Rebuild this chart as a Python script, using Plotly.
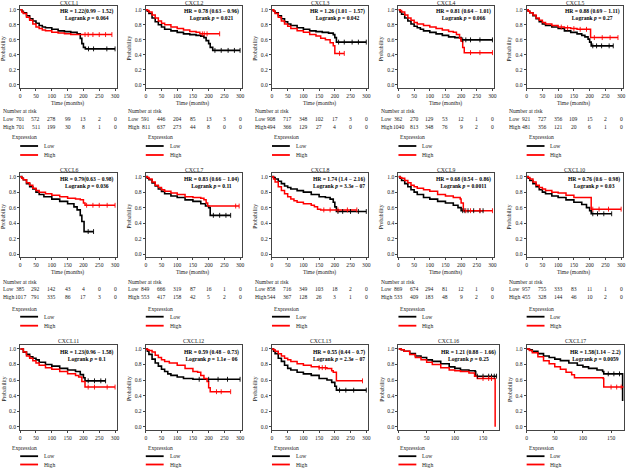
import numpy as np
import plotly.graph_objects as go

# ---------------- data ----------------
GENES = ["CXCL1", "CXCL2", "CXCL3", "CXCL4", "CXCL5",
         "CXCL6", "CXCL7", "CXCL8", "CXCL9", "CXCL10",
         "CXCL11", "CXCL12", "CXCL13", "CXCL16", "CXCL17"]
HR_LABELS = ["HR = 1.22(0.99 \u2212 1.52)", "HR = 0.78 (0.63 \u2212 0.96)", "HR = 1.26 (1.01 \u2212 1.57)",
             "HR = 0.81 (0.64 \u2212 1.01)", "HR = 0.88 (0.69 \u2212 1.11)", "HR = 0.79(0.63 \u2212 0.98)",
             "HR = 0.83 (0.66 \u2212 1.04)", "HR = 1.74 (1.4 \u2212 2.16)", "HR = 0.68 (0.54 \u2212 0.86)",
             "HR = 0.76 (0.6 \u2212 0.98)", "HR = 1.23(0.96 \u2212 1.58)", "HR = 0.59 (0.48 \u2212 0.73)",
             "HR = 0.55 (0.44 \u2212 0.7)", "HR = 1.21 (0.88 \u2212 1.66)", "HR = 1.58(1.14 \u2212 2.2)"]
P_LABELS = ["0.064", "0.021", "0.042", "0.066", "0.27", "0.036", "0.11", "3.3e \u2212 07", "0.0011",
            "0.03", "0.1", "1.1e \u2212 06", "2.3e \u2212 07", "0.25", "0.0059"]

RISK_TIMES = [0, 50, 100, 150, 200, 250, 300]
RISK_CXCL1_LOW = [701, 572, 278, 99, 13, 2, 0]
RISK_CXCL1_HIGH = [701, 511, 199, 30, 8, 1, 0]
RISK_CXCL2_LOW = [591, 446, 204, 85, 13, 3, 0]
RISK_CXCL2_HIGH = [811, 637, 273, 44, 8, 0, 0]
RISK_CXCL3_LOW = [908, 717, 348, 102, 17, 3, 0]
RISK_CXCL3_HIGH = [494, 366, 129, 27, 4, 0, 0]
RISK_CXCL4_LOW = [362, 270, 129, 53, 12, 1, 0]
RISK_CXCL4_HIGH = [1040, 813, 348, 76, 9, 2, 0]
RISK_CXCL5_LOW = [921, 727, 356, 109, 15, 2, 0]
RISK_CXCL5_HIGH = [481, 356, 121, 20, 6, 1, 0]
RISK_CXCL6_LOW = [385, 292, 142, 43, 4, 0, 0]
RISK_CXCL6_HIGH = [1017, 791, 335, 86, 17, 3, 0]
RISK_CXCL7_LOW = [849, 666, 319, 87, 16, 1, 0]
RISK_CXCL7_HIGH = [553, 417, 158, 42, 5, 2, 0]
RISK_CXCL8_LOW = [858, 716, 349, 103, 18, 2, 0]
RISK_CXCL8_HIGH = [544, 367, 128, 26, 3, 1, 0]
RISK_CXCL9_LOW = [869, 674, 294, 81, 12, 1, 0]
RISK_CXCL9_HIGH = [533, 409, 183, 48, 9, 2, 0]
RISK_CXCL10_LOW = [957, 755, 333, 83, 11, 1, 0]
RISK_CXCL10_HIGH = [455, 328, 144, 46, 10, 2, 0]

# Kaplan-Meier step points (time in months, survival probability)
CXCL1_LOW_T = [0, 5, 10, 20, 30, 40, 50, 60, 70, 80, 100, 120, 140, 160, 180, 190, 195, 200, 206, 300]
CXCL1_LOW_S = [1.0, 0.98, 0.96, 0.92, 0.88, 0.85, 0.82, 0.79, 0.77, 0.76, 0.74, 0.72, 0.71, 0.70, 0.68, 0.62, 0.55, 0.50, 0.48, 0.48]
CXCL1_HIGH_T = [0, 5, 10, 20, 30, 40, 50, 60, 70, 80, 100, 120, 140, 160, 180, 290]
CXCL1_HIGH_S = [1.0, 0.97, 0.95, 0.90, 0.86, 0.81, 0.77, 0.75, 0.73, 0.72, 0.70, 0.69, 0.68, 0.67, 0.67, 0.67]
CXCL1_LOW_C = [216, 232, 274, 300]
CXCL1_HIGH_C = [205, 215, 230, 250, 270, 290]

CXCL2_LOW_T = [0, 5, 10, 20, 30, 40, 50, 60, 80, 100, 120, 140, 160, 175, 185, 192, 200, 205, 213, 300]
CXCL2_LOW_S = [1.0, 0.98, 0.95, 0.89, 0.84, 0.80, 0.77, 0.74, 0.72, 0.70, 0.68, 0.67, 0.66, 0.65, 0.63, 0.59, 0.55, 0.50, 0.46, 0.46]
CXCL2_HIGH_T = [0, 5, 10, 20, 30, 40, 50, 60, 80, 100, 120, 140, 160, 172, 235]
CXCL2_HIGH_S = [1.0, 0.99, 0.97, 0.93, 0.89, 0.85, 0.82, 0.80, 0.77, 0.75, 0.73, 0.71, 0.70, 0.68, 0.68]
CXCL2_LOW_C = [220, 240, 262, 282, 300]
CXCL2_HIGH_C = [180, 186, 195, 235]

CXCL3_LOW_T = [0, 5, 10, 20, 30, 40, 50, 60, 80, 100, 120, 140, 160, 180, 195, 200, 205, 300]
CXCL3_LOW_S = [1.0, 0.98, 0.96, 0.92, 0.88, 0.84, 0.81, 0.79, 0.76, 0.74, 0.72, 0.71, 0.70, 0.69, 0.67, 0.63, 0.57, 0.57]
CXCL3_HIGH_T = [0, 5, 10, 20, 30, 40, 50, 60, 80, 100, 120, 140, 155, 170, 185, 195, 200, 230]
CXCL3_HIGH_S = [1.0, 0.98, 0.95, 0.90, 0.85, 0.81, 0.78, 0.75, 0.72, 0.70, 0.67, 0.65, 0.62, 0.60, 0.56, 0.52, 0.42, 0.42]
CXCL3_LOW_C = [212, 230, 255, 275, 300]
CXCL3_HIGH_C = [215, 230]

CXCL4_LOW_T = [0, 5, 10, 20, 30, 40, 50, 60, 70, 80, 100, 120, 140, 160, 180, 200, 300]
CXCL4_LOW_S = [1.0, 0.97, 0.94, 0.89, 0.85, 0.81, 0.78, 0.76, 0.74, 0.72, 0.70, 0.68, 0.66, 0.64, 0.63, 0.60, 0.60]
CXCL4_HIGH_T = [0, 5, 10, 20, 30, 40, 50, 60, 80, 100, 120, 140, 160, 175, 185, 195, 200, 205, 210, 300]
CXCL4_HIGH_S = [1.0, 0.99, 0.97, 0.93, 0.89, 0.86, 0.83, 0.81, 0.79, 0.77, 0.75, 0.73, 0.71, 0.70, 0.67, 0.62, 0.58, 0.50, 0.43, 0.43]
CXCL4_LOW_C = [205, 215, 230, 260, 300]
CXCL4_HIGH_C = [230, 260, 300]

CXCL5_LOW_T = [0, 5, 10, 20, 30, 40, 50, 60, 80, 100, 120, 140, 160, 175, 185, 195, 200, 205, 275]
CXCL5_LOW_S = [1.0, 0.98, 0.96, 0.92, 0.88, 0.84, 0.81, 0.79, 0.77, 0.75, 0.72, 0.70, 0.68, 0.66, 0.64, 0.61, 0.57, 0.52, 0.52]
CXCL5_HIGH_T = [0, 5, 10, 20, 30, 40, 50, 60, 80, 100, 120, 140, 160, 180, 203, 290]
CXCL5_HIGH_S = [1.0, 0.98, 0.96, 0.93, 0.89, 0.86, 0.83, 0.81, 0.79, 0.77, 0.76, 0.75, 0.74, 0.74, 0.63, 0.63]
CXCL5_LOW_C = [210, 222, 238, 262, 275]
CXCL5_HIGH_C = [110, 130, 150, 170, 190, 215, 240, 265, 290]

CXCL6_LOW_T = [0, 5, 10, 20, 30, 40, 50, 60, 75, 100, 125, 150, 170, 180, 190, 195, 202, 232]
CXCL6_LOW_S = [1.0, 0.98, 0.96, 0.91, 0.87, 0.84, 0.80, 0.77, 0.74, 0.71, 0.68, 0.65, 0.61, 0.57, 0.50, 0.42, 0.29, 0.29]
CXCL6_HIGH_T = [0, 5, 10, 20, 30, 40, 50, 60, 80, 100, 125, 150, 175, 190, 200, 205, 300]
CXCL6_HIGH_S = [1.0, 0.98, 0.96, 0.92, 0.89, 0.85, 0.82, 0.80, 0.78, 0.76, 0.74, 0.72, 0.71, 0.70, 0.66, 0.63, 0.63]
CXCL6_LOW_C = [215, 232]
CXCL6_HIGH_C = [210, 230, 250, 275, 300]

CXCL7_LOW_T = [0, 5, 10, 20, 30, 40, 50, 60, 80, 100, 125, 150, 175, 190, 200, 205, 270]
CXCL7_LOW_S = [1.0, 0.98, 0.96, 0.92, 0.88, 0.84, 0.81, 0.78, 0.75, 0.73, 0.70, 0.68, 0.65, 0.62, 0.60, 0.50, 0.50]
CXCL7_HIGH_T = [0, 5, 10, 20, 30, 40, 50, 60, 80, 100, 125, 150, 175, 185, 192, 197, 297]
CXCL7_HIGH_S = [1.0, 0.99, 0.97, 0.93, 0.89, 0.86, 0.83, 0.81, 0.79, 0.77, 0.74, 0.73, 0.72, 0.70, 0.66, 0.62, 0.62]
CXCL7_LOW_C = [215, 235, 255, 270]
CXCL7_HIGH_C = [286, 297]

CXCL8_LOW_T = [0, 5, 10, 20, 30, 40, 50, 60, 80, 100, 125, 150, 170, 185, 195, 200, 205, 300]
CXCL8_LOW_S = [1.0, 0.99, 0.97, 0.94, 0.91, 0.88, 0.86, 0.84, 0.82, 0.80, 0.77, 0.74, 0.73, 0.71, 0.67, 0.61, 0.55, 0.55]
CXCL8_HIGH_T = [0, 5, 10, 20, 30, 40, 50, 60, 70, 80, 100, 125, 135, 145, 155, 270]
CXCL8_HIGH_S = [1.0, 0.97, 0.93, 0.87, 0.82, 0.78, 0.74, 0.71, 0.69, 0.67, 0.65, 0.63, 0.61, 0.58, 0.57, 0.57]
CXCL8_LOW_C = [210, 225, 250, 275, 300]
CXCL8_HIGH_C = [165, 185, 210, 240, 270]

CXCL9_LOW_T = [0, 5, 10, 20, 30, 40, 50, 60, 80, 100, 125, 150, 175, 190, 200, 270]
CXCL9_LOW_S = [1.0, 0.98, 0.95, 0.91, 0.87, 0.83, 0.80, 0.77, 0.73, 0.71, 0.68, 0.66, 0.63, 0.60, 0.56, 0.56]
CXCL9_HIGH_T = [0, 5, 10, 20, 30, 40, 50, 60, 80, 100, 125, 150, 175, 197, 200, 207, 300]
CXCL9_HIGH_S = [1.0, 0.99, 0.98, 0.95, 0.92, 0.89, 0.87, 0.85, 0.83, 0.81, 0.77, 0.75, 0.73, 0.71, 0.66, 0.56, 0.56]
CXCL9_LOW_C = [205, 212, 222, 240, 260, 270]
CXCL9_HIGH_C = [215, 230, 260, 300]

CXCL10_LOW_T = [0, 5, 10, 20, 30, 40, 50, 60, 80, 100, 125, 150, 175, 190, 200, 205, 270]
CXCL10_LOW_S = [1.0, 0.98, 0.95, 0.91, 0.87, 0.83, 0.80, 0.78, 0.75, 0.73, 0.70, 0.67, 0.64, 0.60, 0.56, 0.52, 0.52]
CXCL10_HIGH_T = [0, 5, 10, 20, 30, 40, 50, 60, 80, 100, 125, 150, 175, 205, 300]
CXCL10_HIGH_S = [1.0, 0.99, 0.97, 0.93, 0.89, 0.86, 0.84, 0.82, 0.80, 0.79, 0.76, 0.73, 0.73, 0.58, 0.58]
CXCL10_LOW_C = [210, 225, 245, 270]
CXCL10_HIGH_C = [210, 230, 260, 300]

CXCL11_LOW_T = [0, 10, 20, 30, 40, 50, 60, 80, 100, 125, 150, 175, 190, 200, 205, 270]
CXCL11_LOW_S = [1.0, 0.96, 0.93, 0.90, 0.88, 0.86, 0.83, 0.80, 0.78, 0.75, 0.73, 0.71, 0.67, 0.63, 0.59, 0.59]
CXCL11_HIGH_T = [0, 10, 20, 30, 40, 50, 60, 80, 100, 125, 150, 175, 185, 195, 205, 300]
CXCL11_HIGH_S = [1.0, 0.96, 0.91, 0.88, 0.85, 0.82, 0.79, 0.76, 0.74, 0.71, 0.68, 0.66, 0.64, 0.58, 0.51, 0.51]
CXCL11_LOW_C = [215, 235, 255, 270]
CXCL11_HIGH_C = [215, 235, 275, 300]

CXCL12_LOW_T = [0, 5, 10, 20, 30, 40, 50, 60, 70, 80, 100, 120, 150, 300]
CXCL12_LOW_S = [1.0, 0.97, 0.93, 0.87, 0.82, 0.78, 0.74, 0.71, 0.68, 0.66, 0.64, 0.62, 0.61, 0.61]
CXCL12_HIGH_T = [0, 5, 10, 20, 30, 40, 50, 60, 75, 100, 125, 150, 165, 175, 185, 195, 200, 205, 270]
CXCL12_HIGH_S = [1.0, 0.99, 0.98, 0.96, 0.92, 0.89, 0.86, 0.84, 0.82, 0.79, 0.75, 0.71, 0.70, 0.66, 0.62, 0.58, 0.50, 0.45, 0.45]
CXCL12_LOW_C = [170, 200, 230, 260, 300]
CXCL12_HIGH_C = [225, 240, 270]

CXCL13_LOW_T = [0, 5, 10, 20, 30, 40, 50, 60, 80, 100, 125, 150, 175, 190, 200, 205, 300]
CXCL13_LOW_S = [1.0, 0.97, 0.94, 0.88, 0.84, 0.79, 0.75, 0.73, 0.70, 0.68, 0.66, 0.62, 0.60, 0.57, 0.52, 0.47, 0.47]
CXCL13_HIGH_T = [0, 5, 10, 20, 30, 40, 50, 60, 80, 100, 125, 150, 175, 190, 195, 205, 288]
CXCL13_HIGH_S = [1.0, 0.99, 0.97, 0.94, 0.91, 0.88, 0.86, 0.84, 0.81, 0.79, 0.77, 0.76, 0.75, 0.72, 0.70, 0.59, 0.59]
CXCL13_LOW_C = [215, 235, 260, 300]
CXCL13_HIGH_C = [150, 160, 170, 288]

CXCL16_LOW_T = [0, 5, 10, 20, 30, 40, 50, 60, 75, 90, 100, 110, 125, 136, 137, 174]
CXCL16_LOW_S = [1.0, 0.99, 0.97, 0.94, 0.91, 0.89, 0.86, 0.84, 0.81, 0.77, 0.75, 0.73, 0.72, 0.71, 0.65, 0.65]
CXCL16_HIGH_T = [0, 5, 10, 20, 30, 40, 50, 60, 75, 90, 100, 110, 125, 135, 140, 171, 171.5]
CXCL16_HIGH_S = [1.0, 0.99, 0.97, 0.93, 0.89, 0.86, 0.83, 0.80, 0.76, 0.73, 0.72, 0.71, 0.69, 0.65, 0.62, 0.62, 0.0]
CXCL16_LOW_C = [140, 150, 160, 165, 170, 174]
CXCL16_HIGH_C = [150, 160, 165]

CXCL17_LOW_T = [0, 5, 10, 20, 30, 40, 50, 60, 75, 90, 100, 110, 125, 135, 137, 170, 170.5]
CXCL17_LOW_S = [1.0, 0.99, 0.97, 0.94, 0.91, 0.89, 0.87, 0.85, 0.82, 0.79, 0.77, 0.75, 0.73, 0.71, 0.68, 0.68, 0.33]
CXCL17_HIGH_T = [0, 5, 10, 20, 30, 40, 50, 60, 70, 80, 85, 100, 136, 137, 172]
CXCL17_HIGH_S = [1.0, 0.98, 0.95, 0.90, 0.85, 0.81, 0.77, 0.74, 0.70, 0.67, 0.63, 0.63, 0.62, 0.51, 0.51]
CXCL17_LOW_C = [145, 155, 165]
CXCL17_HIGH_C = [150, 160, 168]

CURVES = {
    "CXCL1": (CXCL1_LOW_T, CXCL1_LOW_S, CXCL1_HIGH_T, CXCL1_HIGH_S, CXCL1_LOW_C, CXCL1_HIGH_C),
    "CXCL2": (CXCL2_LOW_T, CXCL2_LOW_S, CXCL2_HIGH_T, CXCL2_HIGH_S, CXCL2_LOW_C, CXCL2_HIGH_C),
    "CXCL3": (CXCL3_LOW_T, CXCL3_LOW_S, CXCL3_HIGH_T, CXCL3_HIGH_S, CXCL3_LOW_C, CXCL3_HIGH_C),
    "CXCL4": (CXCL4_LOW_T, CXCL4_LOW_S, CXCL4_HIGH_T, CXCL4_HIGH_S, CXCL4_LOW_C, CXCL4_HIGH_C),
    "CXCL5": (CXCL5_LOW_T, CXCL5_LOW_S, CXCL5_HIGH_T, CXCL5_HIGH_S, CXCL5_LOW_C, CXCL5_HIGH_C),
    "CXCL6": (CXCL6_LOW_T, CXCL6_LOW_S, CXCL6_HIGH_T, CXCL6_HIGH_S, CXCL6_LOW_C, CXCL6_HIGH_C),
    "CXCL7": (CXCL7_LOW_T, CXCL7_LOW_S, CXCL7_HIGH_T, CXCL7_HIGH_S, CXCL7_LOW_C, CXCL7_HIGH_C),
    "CXCL8": (CXCL8_LOW_T, CXCL8_LOW_S, CXCL8_HIGH_T, CXCL8_HIGH_S, CXCL8_LOW_C, CXCL8_HIGH_C),
    "CXCL9": (CXCL9_LOW_T, CXCL9_LOW_S, CXCL9_HIGH_T, CXCL9_HIGH_S, CXCL9_LOW_C, CXCL9_HIGH_C),
    "CXCL10": (CXCL10_LOW_T, CXCL10_LOW_S, CXCL10_HIGH_T, CXCL10_HIGH_S, CXCL10_LOW_C, CXCL10_HIGH_C),
    "CXCL11": (CXCL11_LOW_T, CXCL11_LOW_S, CXCL11_HIGH_T, CXCL11_HIGH_S, CXCL11_LOW_C, CXCL11_HIGH_C),
    "CXCL12": (CXCL12_LOW_T, CXCL12_LOW_S, CXCL12_HIGH_T, CXCL12_HIGH_S, CXCL12_LOW_C, CXCL12_HIGH_C),
    "CXCL13": (CXCL13_LOW_T, CXCL13_LOW_S, CXCL13_HIGH_T, CXCL13_HIGH_S, CXCL13_LOW_C, CXCL13_HIGH_C),
    "CXCL16": (CXCL16_LOW_T, CXCL16_LOW_S, CXCL16_HIGH_T, CXCL16_HIGH_S, CXCL16_LOW_C, CXCL16_HIGH_C),
    "CXCL17": (CXCL17_LOW_T, CXCL17_LOW_S, CXCL17_HIGH_T, CXCL17_HIGH_S, CXCL17_LOW_C, CXCL17_HIGH_C),
}
RISK = {
    "CXCL1": (RISK_CXCL1_LOW, RISK_CXCL1_HIGH), "CXCL2": (RISK_CXCL2_LOW, RISK_CXCL2_HIGH),
    "CXCL3": (RISK_CXCL3_LOW, RISK_CXCL3_HIGH), "CXCL4": (RISK_CXCL4_LOW, RISK_CXCL4_HIGH),
    "CXCL5": (RISK_CXCL5_LOW, RISK_CXCL5_HIGH), "CXCL6": (RISK_CXCL6_LOW, RISK_CXCL6_HIGH),
    "CXCL7": (RISK_CXCL7_LOW, RISK_CXCL7_HIGH), "CXCL8": (RISK_CXCL8_LOW, RISK_CXCL8_HIGH),
    "CXCL9": (RISK_CXCL9_LOW, RISK_CXCL9_HIGH), "CXCL10": (RISK_CXCL10_LOW, RISK_CXCL10_HIGH),
}

# ---------------- layout geometry (pixels) ----------------
W, H = 629, 468
COL_L = [19.3, 145.7, 272.7, 400.0, 529.0]
COL_R = [116.7, 242.5, 369.5, 496.5, 626.0]
ROW3_COL_R = [116.7, 242.5, 369.5, 501.0, 627.0]
ROW_TOP = [6.0, 172.8, 345.1]
ROW_BOT = [88.0, 257.1, 429.8]
TITLE_Y = [2.6, 169.5, 341.0]
HR_Y = [14.6, 182.5, 355.9]
TIME_Y = [103.0, 272.0]
NAR_Y = [110.5, 281.5]
NAR_LOW_Y = [118.5, 289.0]
NAR_HIGH_Y = [126.8, 297.0]
EXP_Y = [137.0, 308.5, 448.0]
LEG_LOW_Y = [146.0, 316.7, 456.2]
LEG_HIGH_Y = [155.0, 325.7, 464.5]

FONT = "Liberation Serif, Times New Roman, serif"
FS = 5.6
BLACK = "#000000"
RED = "#ff0000"
AXC = "#444444"


def px(x):
    return x / W


def py(y):
    return 1 - y / H


def step_at(ts, ss, c):
    idx = int(np.searchsorted(np.asarray(ts), c, side="right")) - 1
    return ss[max(idx, 0)]


fig = go.Figure()
annotations = []
shapes = []
layout = {}

for i, gene in enumerate(GENES):
    r, c = divmod(i, 5)
    n = i + 1
    xa = "x" if n == 1 else f"x{n}"
    ya = "y" if n == 1 else f"y{n}"
    xkey = "xaxis" if n == 1 else f"xaxis{n}"
    ykey = "yaxis" if n == 1 else f"yaxis{n}"
    left = COL_L[c]
    right = ROW3_COL_R[c] if r == 2 else COL_R[c]
    short = gene in ("CXCL16", "CXCL17")

    lt, ls, ht, hs, lc, hc = CURVES[gene]
    fig.add_trace(go.Scatter(x=lt, y=ls, mode="lines", line=dict(color=BLACK, width=1.6, shape="hv"),
                             xaxis=xa, yaxis=ya, showlegend=False, hoverinfo="skip"))
    fig.add_trace(go.Scatter(x=ht, y=hs, mode="lines", line=dict(color=RED, width=1.5, shape="hv"),
                             xaxis=xa, yaxis=ya, showlegend=False, hoverinfo="skip"))
    fig.add_trace(go.Scatter(x=lc, y=[step_at(lt, ls, v) for v in lc], mode="markers",
                             marker=dict(symbol="line-ns", size=3.5, line=dict(color=BLACK, width=0.9)),
                             xaxis=xa, yaxis=ya, showlegend=False, hoverinfo="skip"))
    fig.add_trace(go.Scatter(x=hc, y=[step_at(ht, hs, v) for v in hc], mode="markers",
                             marker=dict(symbol="line-ns", size=3.5, line=dict(color=RED, width=0.9)),
                             xaxis=xa, yaxis=ya, showlegend=False, hoverinfo="skip"))

    if short:
        xr = [0, 178] if gene == "CXCL16" else [0, 173]
        xticks = [0, 50, 100, 150]
    else:
        xr = [0, 306]
        xticks = [0, 50, 100, 150, 200, 250, 300]

    layout[xkey] = dict(domain=[px(left), px(right)], range=xr, anchor=ya, tickvals=xticks,
                        ticks="outside", ticklen=2, tickwidth=0.8, tickcolor=AXC,
                        showline=True, mirror=True, linecolor=AXC, linewidth=1,
                        showgrid=False, zeroline=False, fixedrange=True,
                        tickfont=dict(family=FONT, size=FS, color="#222"))
    layout[ykey] = dict(domain=[py(ROW_BOT[r]), py(ROW_TOP[r])], range=[-0.04, 1.05], anchor=xa,
                        tickvals=[0, 0.2, 0.4, 0.6, 0.8, 1.0], tickformat=".1f",
                        ticks="outside", ticklen=2, tickwidth=0.8, tickcolor=AXC,
                        showline=True, mirror=True, linecolor=AXC, linewidth=1,
                        showgrid=False, zeroline=False, fixedrange=True,
                        tickfont=dict(family=FONT, size=FS, color="#222"))

    # title
    annotations.append(dict(text=gene, x=px((left + right) / 2), y=py(TITLE_Y[r]), xref="paper", yref="paper",
                            showarrow=False, xanchor="center", yanchor="middle",
                            font=dict(family=FONT, size=5.8, color="#222")))
    # HR / p
    annotations.append(dict(text=f"<b>{HR_LABELS[i]}</b><br><b>Logrank <i>p</i> = {P_LABELS[i]}</b>",
                            x=px(right - 1.2), y=py(HR_Y[r]), xref="paper", yref="paper",
                            showarrow=False, xanchor="right", yanchor="middle", align="center",
                            font=dict(family=FONT, size=FS, color=BLACK)))
    # y-axis title
    annotations.append(dict(text="Probability", x=px(left - 16.8), y=py((ROW_TOP[r] + ROW_BOT[r]) / 2 + 1.5),
                            xref="paper", yref="paper", showarrow=False, textangle=-90,
                            xanchor="center", yanchor="middle", font=dict(family=FONT, size=FS, color="#222")))

    if r < 2:
        annotations.append(dict(text="Time (months)", x=150, xref=xa, y=py(TIME_Y[r]), yref="paper",
                                showarrow=False, xanchor="center", yanchor="middle",
                                font=dict(family=FONT, size=FS, color="#222")))
        lx = max(left - 19.5, 0.5)
        annotations.append(dict(text="Number at risk", x=px(lx), y=py(NAR_Y[r]), xref="paper", yref="paper",
                                showarrow=False, xanchor="left", yanchor="middle",
                                font=dict(family=FONT, size=FS, color="#222")))
        for lab, yy in (("Low", NAR_LOW_Y[r]), ("High", NAR_HIGH_Y[r])):
            annotations.append(dict(text=lab, x=px(lx), y=py(yy), xref="paper", yref="paper",
                                    showarrow=False, xanchor="left", yanchor="middle",
                                    font=dict(family=FONT, size=FS, color="#222")))
        rl, rh = RISK[gene]
        for tval, vl, vh in zip(RISK_TIMES, rl, rh):
            annotations.append(dict(text=str(vl), x=tval, xref=xa, y=py(NAR_LOW_Y[r]), yref="paper",
                                    showarrow=False, xanchor="center", yanchor="middle",
                                    font=dict(family=FONT, size=FS, color="#222")))
            annotations.append(dict(text=str(vh), x=tval, xref=xa, y=py(NAR_HIGH_Y[r]), yref="paper",
                                    showarrow=False, xanchor="center", yanchor="middle",
                                    font=dict(family=FONT, size=FS, color="#222")))

    # legend block
    ex = left - 10 if c == 0 else left
    annotations.append(dict(text="Expression", x=px(ex), y=py(EXP_Y[r]), xref="paper", yref="paper",
                            showarrow=False, xanchor="left", yanchor="middle",
                            font=dict(family=FONT, size=FS, color="#222")))
    for lab, yy, col in (("Low", LEG_LOW_Y[r], BLACK), ("High", LEG_HIGH_Y[r], RED)):
        shapes.append(dict(type="line", xref="paper", yref="paper", x0=px(left), x1=px(left + 18),
                           y0=py(yy), y1=py(yy), line=dict(color=col, width=1.8)))
        annotations.append(dict(text=lab, x=px(left + 22), y=py(yy), xref="paper", yref="paper",
                                showarrow=False, xanchor="left", yanchor="middle",
                                font=dict(family=FONT, size=FS, color="#222")))

fig.update_layout(width=W, height=H, margin=dict(l=0, r=0, t=0, b=0),
                  paper_bgcolor="white", plot_bgcolor="white",
                  annotations=annotations, shapes=shapes, showlegend=False, **layout)

fig.write_html("out.html", config={"displayModeBar": False},
               post_script="document.body.style.margin='0';document.body.style.overflow='hidden';")
